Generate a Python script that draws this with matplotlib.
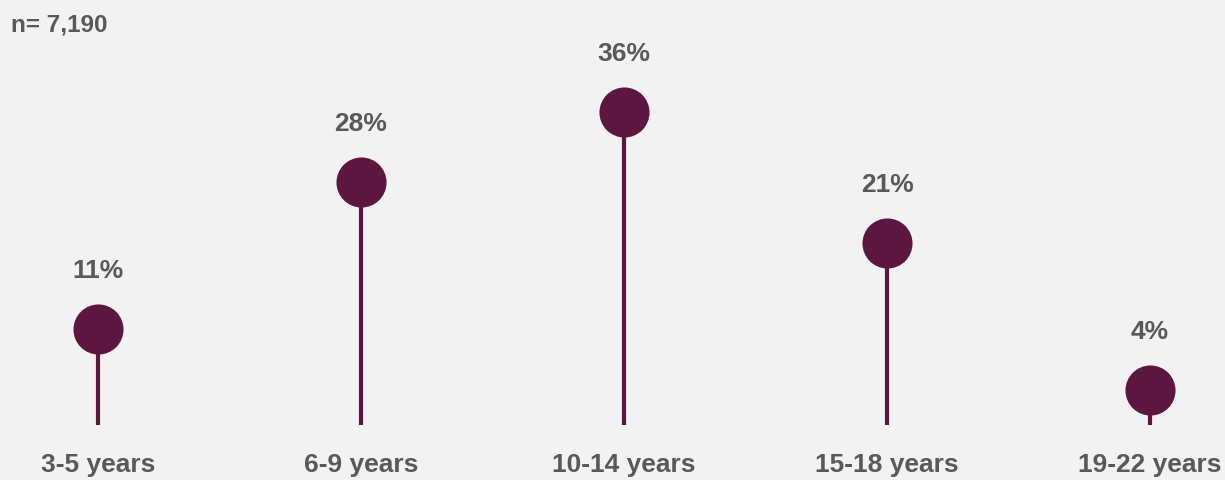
import numpy as np
import matplotlib
matplotlib.use("Agg")
import matplotlib.pyplot as plt

plt.rcParams["font.family"] = ["Liberation Sans Narrow", "Liberation Sans", "DejaVu Sans"]

categories = ["3-5 years", "6-9 years", "10-14 years", "15-18 years", "19-22 years"]
shares = [11, 28, 36, 21, 4]
sample_note = "n= 7,190"

BG = "#f2f2f2"
MAROON = "#5c1640"
GREY = "#595959"

fig = plt.figure(figsize=(12.25, 4.8), dpi=100, facecolor=BG)
ax = fig.add_axes([0, 0, 1, 1], facecolor=BG)

x = np.arange(len(categories))
ax.vlines(x, 0, shares, color=MAROON, linewidth=3, zorder=2)
ax.scatter(x, shares, s=50 ** 2 * 0.52, color=MAROON, zorder=3, linewidths=0)

for xi, v in zip(x, shares):
    ax.annotate(f"{v}%", (xi, v), xytext=(0, 58), textcoords="offset pixels",
                ha="center", va="center", fontsize=19, fontweight="bold", color=GREY)

for xi, c in zip(x, categories):
    ax.annotate(c, (xi, 0), xytext=(0, -40), textcoords="offset pixels",
                ha="center", va="center", fontsize=19, fontweight="bold", color=GREY)

fig.text(11 / 1225, 1 - 25 / 480, sample_note, ha="left", va="center",
         fontsize=17.5, fontweight="bold", color=GREY)

# map positions so the stems sit where they should in the 1225x480 frame
ax.set_xlim(-98 / 263, -98 / 263 + 1225 / 263)
ax.set_ylim(-55 / 8.69, -55 / 8.69 + 480 / 8.69)
ax.axis("off")

fig.savefig("out.png", dpi=100, facecolor=BG)
